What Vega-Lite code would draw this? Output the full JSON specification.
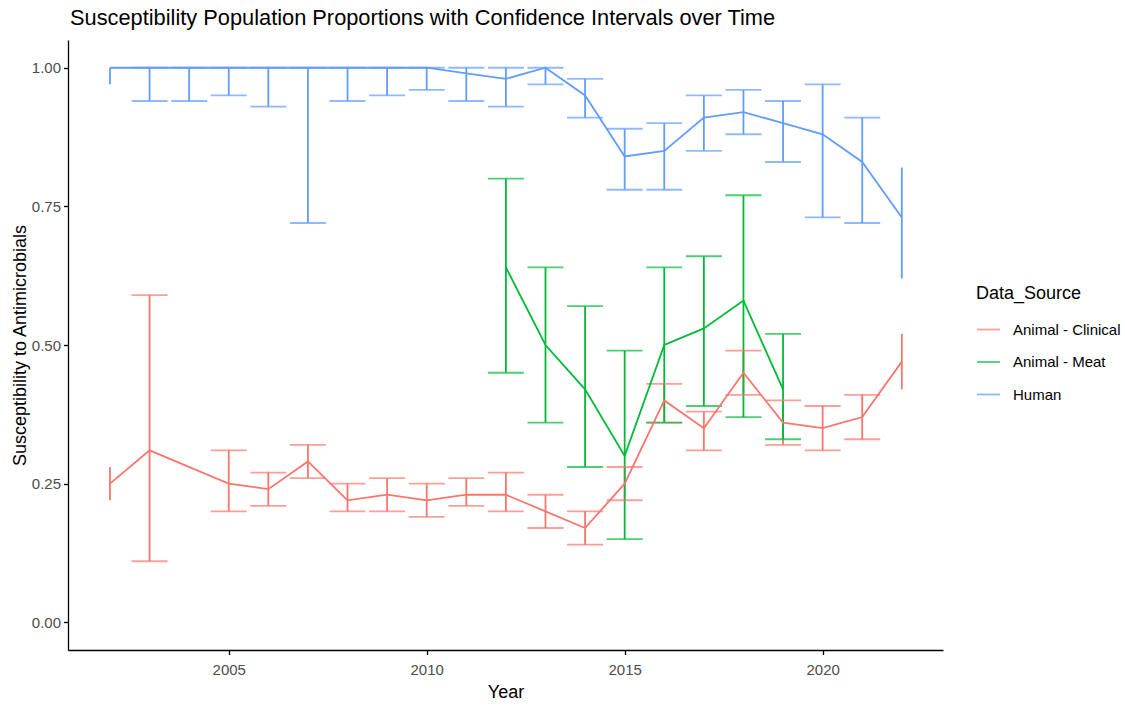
{
  "$schema": "https://vega.github.io/schema/vega-lite/v6.json",
  "width": 875,
  "height": 610,
  "autosize": "none",
  "padding": {"left": 68, "top": 40, "right": 182, "bottom": 56},
  "background": "white",
  "config": {
    "font": "Liberation Sans",
    "view": {"stroke": null},
    "axis": {"grid": false, "domainColor": "black", "domainWidth": 1.3, "tickColor": "black", "tickWidth": 1.3, "tickSize": 4.5, "labelColor": "#4D4D4D", "labelFontSize": 15, "titleFontSize": 18, "titleFontWeight": "normal", "titleColor": "black"}
  },
  "title": {"text": "Susceptibility Population Proportions with Confidence Intervals over Time", "anchor": "start", "frame": "group", "fontSize": 21.8, "fontWeight": "normal", "color": "black", "baseline": "alphabetic", "offset": -7, "dx": 2},
  "data": {"values": [
    {"Year": 2002, "Data_Source": "Human", "Proportion": 1.00, "Lower": 0.97, "Upper": 1.00},
    {"Year": 2003, "Data_Source": "Human", "Proportion": 1.00, "Lower": 0.94, "Upper": 1.00},
    {"Year": 2004, "Data_Source": "Human", "Proportion": 1.00, "Lower": 0.94, "Upper": 1.00},
    {"Year": 2005, "Data_Source": "Human", "Proportion": 1.00, "Lower": 0.95, "Upper": 1.00},
    {"Year": 2006, "Data_Source": "Human", "Proportion": 1.00, "Lower": 0.93, "Upper": 1.00},
    {"Year": 2007, "Data_Source": "Human", "Proportion": 1.00, "Lower": 0.72, "Upper": 1.00},
    {"Year": 2008, "Data_Source": "Human", "Proportion": 1.00, "Lower": 0.94, "Upper": 1.00},
    {"Year": 2009, "Data_Source": "Human", "Proportion": 1.00, "Lower": 0.95, "Upper": 1.00},
    {"Year": 2010, "Data_Source": "Human", "Proportion": 1.00, "Lower": 0.96, "Upper": 1.00},
    {"Year": 2011, "Data_Source": "Human", "Proportion": 0.99, "Lower": 0.94, "Upper": 1.00},
    {"Year": 2012, "Data_Source": "Human", "Proportion": 0.98, "Lower": 0.93, "Upper": 1.00},
    {"Year": 2013, "Data_Source": "Human", "Proportion": 1.00, "Lower": 0.97, "Upper": 1.00},
    {"Year": 2014, "Data_Source": "Human", "Proportion": 0.95, "Lower": 0.91, "Upper": 0.98},
    {"Year": 2015, "Data_Source": "Human", "Proportion": 0.84, "Lower": 0.78, "Upper": 0.89},
    {"Year": 2016, "Data_Source": "Human", "Proportion": 0.85, "Lower": 0.78, "Upper": 0.90},
    {"Year": 2017, "Data_Source": "Human", "Proportion": 0.91, "Lower": 0.85, "Upper": 0.95},
    {"Year": 2018, "Data_Source": "Human", "Proportion": 0.92, "Lower": 0.88, "Upper": 0.96},
    {"Year": 2019, "Data_Source": "Human", "Proportion": 0.90, "Lower": 0.83, "Upper": 0.94},
    {"Year": 2020, "Data_Source": "Human", "Proportion": 0.88, "Lower": 0.73, "Upper": 0.97},
    {"Year": 2021, "Data_Source": "Human", "Proportion": 0.83, "Lower": 0.72, "Upper": 0.91},
    {"Year": 2022, "Data_Source": "Human", "Proportion": 0.73, "Lower": 0.62, "Upper": 0.82},
    {"Year": 2002, "Data_Source": "Animal - Clinical", "Proportion": 0.25, "Lower": 0.22, "Upper": 0.28},
    {"Year": 2003, "Data_Source": "Animal - Clinical", "Proportion": 0.31, "Lower": 0.11, "Upper": 0.59},
    {"Year": 2005, "Data_Source": "Animal - Clinical", "Proportion": 0.25, "Lower": 0.20, "Upper": 0.31},
    {"Year": 2006, "Data_Source": "Animal - Clinical", "Proportion": 0.24, "Lower": 0.21, "Upper": 0.27},
    {"Year": 2007, "Data_Source": "Animal - Clinical", "Proportion": 0.29, "Lower": 0.26, "Upper": 0.32},
    {"Year": 2008, "Data_Source": "Animal - Clinical", "Proportion": 0.22, "Lower": 0.20, "Upper": 0.25},
    {"Year": 2009, "Data_Source": "Animal - Clinical", "Proportion": 0.23, "Lower": 0.20, "Upper": 0.26},
    {"Year": 2010, "Data_Source": "Animal - Clinical", "Proportion": 0.22, "Lower": 0.19, "Upper": 0.25},
    {"Year": 2011, "Data_Source": "Animal - Clinical", "Proportion": 0.23, "Lower": 0.21, "Upper": 0.26},
    {"Year": 2012, "Data_Source": "Animal - Clinical", "Proportion": 0.23, "Lower": 0.20, "Upper": 0.27},
    {"Year": 2013, "Data_Source": "Animal - Clinical", "Proportion": 0.20, "Lower": 0.17, "Upper": 0.23},
    {"Year": 2014, "Data_Source": "Animal - Clinical", "Proportion": 0.17, "Lower": 0.14, "Upper": 0.20},
    {"Year": 2015, "Data_Source": "Animal - Clinical", "Proportion": 0.25, "Lower": 0.22, "Upper": 0.28},
    {"Year": 2016, "Data_Source": "Animal - Clinical", "Proportion": 0.40, "Lower": 0.36, "Upper": 0.43},
    {"Year": 2017, "Data_Source": "Animal - Clinical", "Proportion": 0.35, "Lower": 0.31, "Upper": 0.38},
    {"Year": 2018, "Data_Source": "Animal - Clinical", "Proportion": 0.45, "Lower": 0.41, "Upper": 0.49},
    {"Year": 2019, "Data_Source": "Animal - Clinical", "Proportion": 0.36, "Lower": 0.32, "Upper": 0.40},
    {"Year": 2020, "Data_Source": "Animal - Clinical", "Proportion": 0.35, "Lower": 0.31, "Upper": 0.39},
    {"Year": 2021, "Data_Source": "Animal - Clinical", "Proportion": 0.37, "Lower": 0.33, "Upper": 0.41},
    {"Year": 2022, "Data_Source": "Animal - Clinical", "Proportion": 0.47, "Lower": 0.42, "Upper": 0.52},
    {"Year": 2012, "Data_Source": "Animal - Meat", "Proportion": 0.64, "Lower": 0.45, "Upper": 0.80},
    {"Year": 2013, "Data_Source": "Animal - Meat", "Proportion": 0.50, "Lower": 0.36, "Upper": 0.64},
    {"Year": 2014, "Data_Source": "Animal - Meat", "Proportion": 0.42, "Lower": 0.28, "Upper": 0.57},
    {"Year": 2015, "Data_Source": "Animal - Meat", "Proportion": 0.30, "Lower": 0.15, "Upper": 0.49},
    {"Year": 2016, "Data_Source": "Animal - Meat", "Proportion": 0.50, "Lower": 0.36, "Upper": 0.64},
    {"Year": 2017, "Data_Source": "Animal - Meat", "Proportion": 0.53, "Lower": 0.39, "Upper": 0.66},
    {"Year": 2018, "Data_Source": "Animal - Meat", "Proportion": 0.58, "Lower": 0.37, "Upper": 0.77},
    {"Year": 2019, "Data_Source": "Animal - Meat", "Proportion": 0.42, "Lower": 0.33, "Upper": 0.52}
  ]},
  "encoding": {
    "x": {"field": "Year", "type": "quantitative", "scale": {"domain": [2000.94, 2023.04], "nice": false, "zero": false},
          "axis": {"values": [2005, 2010, 2015, 2020], "format": "d", "labelPadding": 8, "titlePadding": 6, "title": "Year"}},
    "color": {"field": "Data_Source", "type": "nominal", "title": "Data_Source",
              "scale": {"domain": ["Animal - Clinical", "Animal - Meat", "Human"], "range": ["#F8766D", "#00BA38", "#619CFF"]},
              "legend": {"orient": "none", "legendX": 908, "legendY": 245, "symbolType": "stroke", "symbolSize": 529, "symbolStrokeWidth": 1.8,
                         "labelFontSize": 15, "labelColor": "black", "labelOffset": 12, "titleFontSize": 18, "titleFontWeight": "normal", "titleColor": "black", "titlePadding": 14, "rowPadding": 11.5, "padding": 0}}
  },
  "layer": [
    {"mark": {"type": "rule", "strokeWidth": 1.8},
     "encoding": {"y": {"field": "Lower", "type": "quantitative", "scale": {"domain": [-0.05, 1.05], "nice": false, "zero": false},
                        "axis": {"values": [0, 0.25, 0.5, 0.75, 1], "format": ".2f", "labelPadding": 3, "titlePadding": 2, "title": "Susceptibility to Antimicrobials"}},
                  "y2": {"field": "Upper"}}},
    {"transform": [{"filter": "datum.Year > 2002 && datum.Year < 2022"}],
     "mark": {"type": "tick", "orient": "horizontal", "size": 36, "thickness": 1.8},
     "encoding": {"y": {"field": "Lower", "type": "quantitative"}}},
    {"transform": [{"filter": "datum.Year > 2002 && datum.Year < 2022"}],
     "mark": {"type": "tick", "orient": "horizontal", "size": 36, "thickness": 1.8},
     "encoding": {"y": {"field": "Upper", "type": "quantitative"}}},
    {"mark": {"type": "line", "strokeWidth": 1.8},
     "encoding": {"y": {"field": "Proportion", "type": "quantitative"}}}
  ]
}
